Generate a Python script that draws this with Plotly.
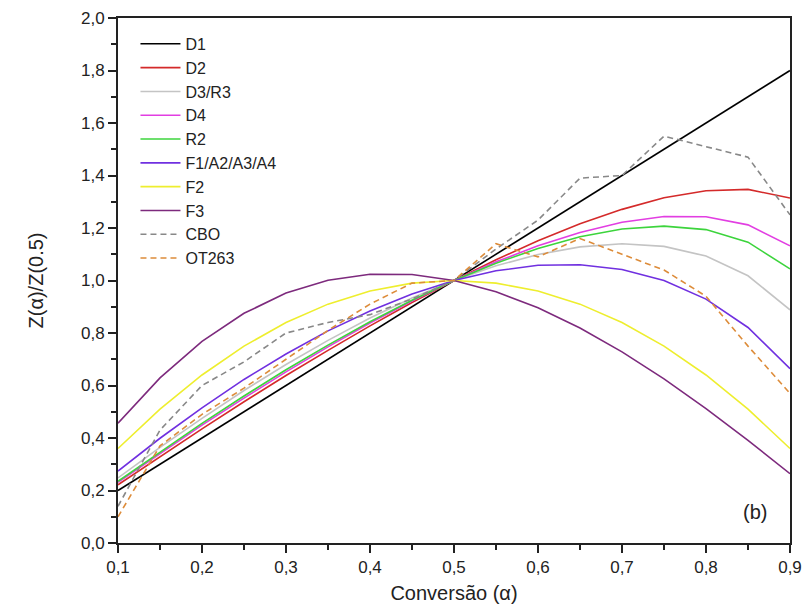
import plotly.graph_objects as go

# Conversion values (alpha)
alpha = [0.10, 0.15, 0.20, 0.25, 0.30, 0.35, 0.40, 0.45, 0.50,
         0.55, 0.60, 0.65, 0.70, 0.75, 0.80, 0.85, 0.90]

# Reduced master curves Z(alpha)/Z(0.5) for each kinetic model
d1 = [0.200, 0.300, 0.400, 0.500, 0.600, 0.700, 0.800, 0.900, 1.000,
      1.100, 1.200, 1.300, 1.400, 1.500, 1.600, 1.700, 1.800]
d2 = [0.222, 0.330, 0.435, 0.538, 0.638, 0.734, 0.827, 0.916, 1.000,
      1.079, 1.151, 1.216, 1.271, 1.315, 1.342, 1.347, 1.314]
d3_r3 = [0.248, 0.364, 0.475, 0.581, 0.680, 0.772, 0.857, 0.933, 1.000,
         1.056, 1.099, 1.128, 1.140, 1.130, 1.093, 1.018, 0.888]
d4 = [0.231, 0.341, 0.449, 0.552, 0.652, 0.747, 0.838, 0.922, 1.000,
      1.071, 1.132, 1.183, 1.222, 1.244, 1.243, 1.212, 1.132]
r2 = [0.235, 0.347, 0.456, 0.560, 0.660, 0.754, 0.843, 0.925, 1.000,
      1.066, 1.122, 1.167, 1.196, 1.207, 1.194, 1.146, 1.044]
f1_a = [0.274, 0.399, 0.515, 0.623, 0.720, 0.808, 0.884, 0.949, 1.000,
        1.037, 1.058, 1.060, 1.042, 1.000, 0.929, 0.821, 0.664]
f2 = [0.360, 0.510, 0.640, 0.750, 0.840, 0.910, 0.960, 0.990, 1.000,
      0.990, 0.960, 0.910, 0.840, 0.750, 0.640, 0.510, 0.360]
f3 = [0.456, 0.629, 0.768, 0.875, 0.952, 1.001, 1.024, 1.023, 1.000,
      0.957, 0.896, 0.819, 0.728, 0.625, 0.512, 0.391, 0.264]

# Experimental samples
cbo = [0.14, 0.43, 0.60, 0.69, 0.80, 0.84, 0.87, 0.93, 1.00,
       1.12, 1.23, 1.39, 1.40, 1.55, 1.51, 1.47, 1.25]
ot263 = [0.10, 0.37, 0.49, 0.59, 0.70, 0.81, 0.91, 0.99, 1.00,
         1.14, 1.09, 1.16, 1.10, 1.04, 0.94, 0.75, 0.57]

series = [
    ("D1", d1, "#000000", "solid"),
    ("D2", d2, "#d42a2a", "solid"),
    ("D3/R3", d3_r3, "#c4c4c4", "solid"),
    ("D4", d4, "#e23ee2", "solid"),
    ("R2", r2, "#3cd43c", "solid"),
    ("F1/A2/A3/A4", f1_a, "#7030e0", "solid"),
    ("F2", f2, "#eeee2e", "solid"),
    ("F3", f3, "#7d2a7d", "solid"),
    ("CBO", cbo, "#888888", "6px,4px"),
    ("OT263", ot263, "#dd8c3a", "6px,4px"),
]

fig = go.Figure()
for name, ys, color, dash in series:
    fig.add_trace(go.Scatter(
        x=alpha, y=ys, name=name, mode="lines",
        line=dict(color=color, width=1.6, dash=dash),
    ))

font_family = "Liberation Sans, Arial, sans-serif"
ink = "#222222"

fig.update_layout(
    width=807, height=604,
    margin=dict(l=118, r=17, t=18, b=61),
    paper_bgcolor="white", plot_bgcolor="white",
    separators=",.",
    font=dict(family=font_family, size=17, color=ink),
    showlegend=True,
    legend=dict(
        x=0.026, y=0.983, xanchor="left", yanchor="top",
        bgcolor="rgba(0,0,0,0)", borderwidth=0,
        font=dict(size=16, family=font_family, color=ink),
        tracegroupgap=0, itemwidth=40,
    ),
    annotations=[dict(
        x=0.948, y=0.035, xref="paper", yref="paper", text="(b)",
        showarrow=False, xanchor="center", yanchor="bottom",
        font=dict(size=20, family=font_family, color=ink),
    )],
)

fig.update_xaxes(
    range=[0.1, 0.9], tickvals=[0.1, 0.2, 0.3, 0.4, 0.5, 0.6, 0.7, 0.8, 0.9],
    tickformat=".1f", ticks="outside", ticklen=8, tickwidth=1.5,
    tickcolor=ink, automargin=False,
    minor=dict(dtick=0.05, tick0=0.1, ticks="outside", ticklen=5,
               tickwidth=1.5, tickcolor=ink),
    showline=True, linecolor=ink, linewidth=2, mirror=True,
    showgrid=False, zeroline=False,
    title=dict(text="Conversão (α)", font=dict(size=20, family=font_family),
               standoff=10),
    tickfont=dict(size=17, family=font_family),
)
fig.update_yaxes(
    range=[0, 2.0], tickvals=[0, 0.2, 0.4, 0.6, 0.8, 1.0, 1.2, 1.4, 1.6, 1.8, 2.0],
    tickformat=".1f", ticks="outside", ticklen=8, tickwidth=1.5,
    tickcolor=ink, automargin=False,
    minor=dict(dtick=0.1, tick0=0, ticks="outside", ticklen=5,
               tickwidth=1.5, tickcolor=ink),
    showline=True, linecolor=ink, linewidth=2, mirror=True,
    showgrid=False, zeroline=False,
    title=dict(text="Z(α)/Z(0.5)", font=dict(size=20, family=font_family),
               standoff=32),
    tickfont=dict(size=17, family=font_family),
)

fig.write_html("out.html")
